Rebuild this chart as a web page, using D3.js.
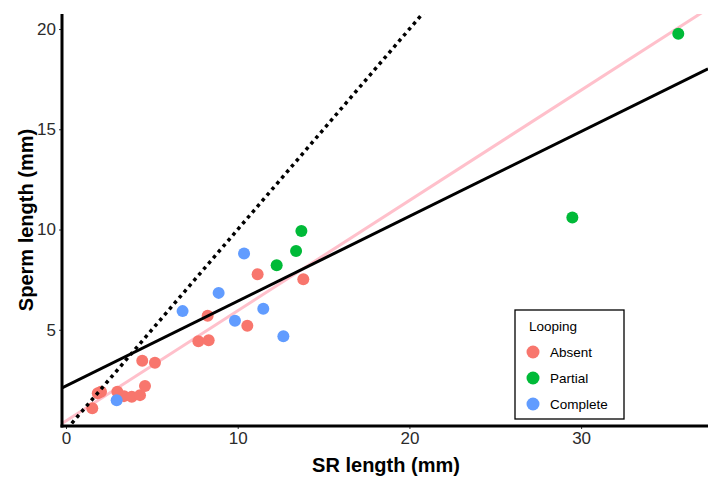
<!DOCTYPE html>
<html>
<head>
<meta charset="utf-8">
<script src="https://cdn.jsdelivr.net/npm/d3@7"></script>
<style>
  html, body { margin: 0; padding: 0; background: #fff; }
  svg { display: block; font-family: "Liberation Sans", Arial, Helvetica, sans-serif; }
</style>
</head>
<body>
<svg id="chart" width="722" height="481"></svg>
<script>
// ---- data ----
const srLength    = [1.53, 1.85, 2.04, 2.99, 3.38, 3.83, 4.31, 4.60, 4.44, 5.18, 7.71, 8.31, 8.25, 10.56, 11.16, 13.82,
                     12.27, 13.40, 13.71, 29.49, 35.66,
                     2.95, 6.79, 8.89, 9.84, 10.37, 11.49, 12.66];
const spermLength = [1.08, 1.83, 1.91, 1.91, 1.69, 1.66, 1.74, 2.19, 3.45, 3.35, 4.43, 4.48, 5.70, 5.20, 7.77, 7.52,
                     8.22, 8.93, 9.93, 10.60, 19.77,
                     1.49, 5.93, 6.84, 5.45, 8.80, 6.05, 4.68];
const looping     = ["Absent","Absent","Absent","Absent","Absent","Absent","Absent","Absent","Absent","Absent","Absent","Absent","Absent","Absent","Absent","Absent",
                     "Partial","Partial","Partial","Partial","Partial",
                     "Complete","Complete","Complete","Complete","Complete","Complete","Complete"];
const loopingLevels = ["Absent", "Partial", "Complete"];
const loopingColors = ["#F8766D", "#00BA38", "#619CFF"];

// fitted lines: [name, intercept, slope]
const lineNames      = ["ols", "fit", "oneToOne"];
const lineIntercepts = [0.45, 2.2, 0];
const lineSlopes     = [0.55, 0.423, 1];

const xTicks = [0, 10, 20, 30];
const yTicks = [5, 10, 15, 20];
const xTitle = "SR length (mm)";
const yTitle = "Sperm length (mm)";
const legendTitle = "Looping";

// ---- layout ----
const svg = d3.select("#chart");
const panel = {left: 62, right: 708, top: 14, bottom: 426};
const x = d3.scaleLinear().domain([-0.233, 37.39]).range([panel.left, panel.right]);
const y = d3.scaleLinear().domain([0.2, 20.75]).range([panel.bottom, panel.top]);
const color = d3.scaleOrdinal().domain(loopingLevels).range(loopingColors);

svg.append("defs").append("clipPath").attr("id", "clip")
  .append("rect").attr("x", panel.left).attr("y", panel.top)
  .attr("width", panel.right - panel.left).attr("height", panel.bottom - panel.top);

const plot = svg.append("g").attr("clip-path", "url(#clip)");
const xd = x.domain();
const lineGen = d3.line().x(d => x(d[0])).y(d => y(d[1]));
const lineData = i => [[xd[0], lineIntercepts[i] + lineSlopes[i] * xd[0]], [xd[1], lineIntercepts[i] + lineSlopes[i] * xd[1]]];

// pink regression line (under points)
plot.append("path").attr("d", lineGen(lineData(0)))
  .attr("stroke", "#FFC0CB").attr("stroke-width", 3).attr("fill", "none");

// points
const pts = srLength.map((v, i) => ({x: v, y: spermLength[i], g: looping[i]}));
plot.selectAll("circle.pt").data(pts).enter().append("circle")
  .attr("class", "pt")
  .attr("cx", d => x(d.x)).attr("cy", d => y(d.y)).attr("r", 6)
  .attr("fill", d => color(d.g));

// black solid line
plot.append("path").attr("d", lineGen(lineData(1)))
  .attr("stroke", "#000").attr("stroke-width", 3).attr("fill", "none");
// dotted 1:1 line
plot.append("path").attr("d", lineGen(lineData(2)))
  .attr("stroke", "#000").attr("stroke-width", 3.5).attr("fill", "none")
  .attr("stroke-dasharray", "3.5,4");

// axes
const xAxis = svg.append("g").attr("transform", `translate(0,${panel.bottom})`)
  .call(d3.axisBottom(x).tickValues(xTicks).tickSize(3).tickPadding(3));
const yAxis = svg.append("g").attr("transform", `translate(${panel.left},0)`)
  .call(d3.axisLeft(y).tickValues(yTicks).tickSize(3).tickPadding(3));
[xAxis, yAxis].forEach(a => {
  a.select(".domain").remove();
  a.selectAll(".tick line").attr("stroke", "#333").attr("stroke-width", 1);
  a.selectAll(".tick text").attr("fill", "#2b2b2b").attr("font-size", 17)
    .attr("font-family", "'Liberation Sans', Arial, sans-serif");
});
svg.append("line").attr("x1", panel.left).attr("x2", panel.left)
  .attr("y1", panel.top).attr("y2", panel.bottom + 1.5)
  .attr("stroke", "#000").attr("stroke-width", 3);
svg.append("line").attr("x1", panel.left - 1.5).attr("x2", panel.right)
  .attr("y1", panel.bottom).attr("y2", panel.bottom)
  .attr("stroke", "#000").attr("stroke-width", 3);

// axis titles
svg.append("text").attr("x", (panel.left + panel.right) / 2 + 1).attr("y", 472)
  .attr("text-anchor", "middle").attr("font-size", 20).attr("font-weight", "bold")
  .attr("fill", "#000").text(xTitle);
svg.append("text").attr("transform", `translate(33,${(panel.top + panel.bottom) / 2}) rotate(-90)`)
  .attr("text-anchor", "middle").attr("font-size", 20).attr("font-weight", "bold")
  .attr("fill", "#000").text(yTitle);

// legend
const lg = svg.append("g").attr("transform", "translate(515,310)");
lg.append("rect").attr("width", 109).attr("height", 109)
  .attr("fill", "#fff").attr("stroke", "#000").attr("stroke-width", 1.3);
lg.append("text").attr("x", 14).attr("y", 21).attr("font-size", 13.5).attr("fill", "#000").text(legendTitle);
loopingLevels.forEach((lvl, i) => {
  lg.append("circle").attr("cx", 18).attr("cy", 42 + i * 26).attr("r", 6.5).attr("fill", color(lvl));
  lg.append("text").attr("x", 35).attr("y", 47 + i * 26).attr("font-size", 13.5).attr("fill", "#000").text(lvl);
});
</script>
</body>
</html>
